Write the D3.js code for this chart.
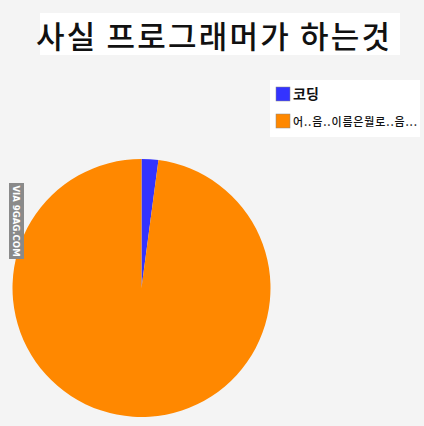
<!DOCTYPE html>
<html><head><meta charset="utf-8">
<script src="https://cdn.jsdelivr.net/npm/d3@7"></script>
<style>html,body{margin:0;padding:0;background:#f4f4f4;}svg{display:block;}</style>
</head><body>
<script>
const title = "사실 프로그래머가 하는것";
const categories = ["코딩", "어..음..이름은뭘로..음..."];
const values = [2.1, 97.9];
const colors = ["#3333ff", "#ff8800"];

const W = 424, H = 426;
const svg = d3.select("body").append("svg").attr("width", W).attr("height", H);
svg.append("rect").attr("width", W).attr("height", H).attr("fill", "#f4f4f4");

// title box
svg.append("rect").attr("x", 40).attr("y", 13).attr("width", 360).attr("height", 42).attr("fill", "#ffffff");
svg.append("text").attr("x", 213).attr("y", 48).attr("text-anchor", "middle")
  .attr("font-family", "'Noto Sans CJK KR'").attr("font-weight", 500).attr("font-size", 31)
  .attr("textLength", 354).attr("lengthAdjust", "spacing")
  .attr("fill", "#111").text(title);

// pie
const cx = 141.5, cy = 288, r = 129;
const pie = d3.pie().sort(null).value(d => d)(values);
const arc = d3.arc().innerRadius(0).outerRadius(r);
const g = svg.append("g").attr("transform", `translate(${cx},${cy})`);
g.selectAll("path").data(pie).join("path").attr("d", arc).attr("fill", (d, i) => colors[i]);

// legend
svg.append("rect").attr("x", 270).attr("y", 80).attr("width", 150).attr("height", 57).attr("fill", "#ffffff");
const lg = svg.append("g");
categories.forEach((c, i) => {
  const y = 87 + i * 27;
  lg.append("rect").attr("x", 276).attr("y", y).attr("width", 14).attr("height", 14)
    .attr("fill", colors[i]).attr("stroke", "#888").attr("stroke-width", 0.5);
  const t = lg.append("text").attr("x", 293).attr("y", y + 12)
    .attr("font-family", "'Noto Sans CJK KR'").attr("font-weight", i === 0 ? 700 : 500)
    .attr("font-size", i === 0 ? 14 : 11).attr("fill", "#111").text(c);
  if (i === 1) t.attr("textLength", 124).attr("lengthAdjust", "spacing");
});

// watermark
svg.append("rect").attr("x", 9).attr("y", 183).attr("width", 15).attr("height", 76).attr("fill", "#8a8a8a");
svg.append("text").attr("transform", "translate(12.5,221) rotate(90)").attr("text-anchor", "middle")
  .attr("font-family", "'DejaVu Sans Condensed', 'DejaVu Sans'").attr("font-weight", 700).attr("font-size", 9.5)
  .attr("fill", "#ffffff").text("VIA 9GAG.COM");
</script>
</body></html>
